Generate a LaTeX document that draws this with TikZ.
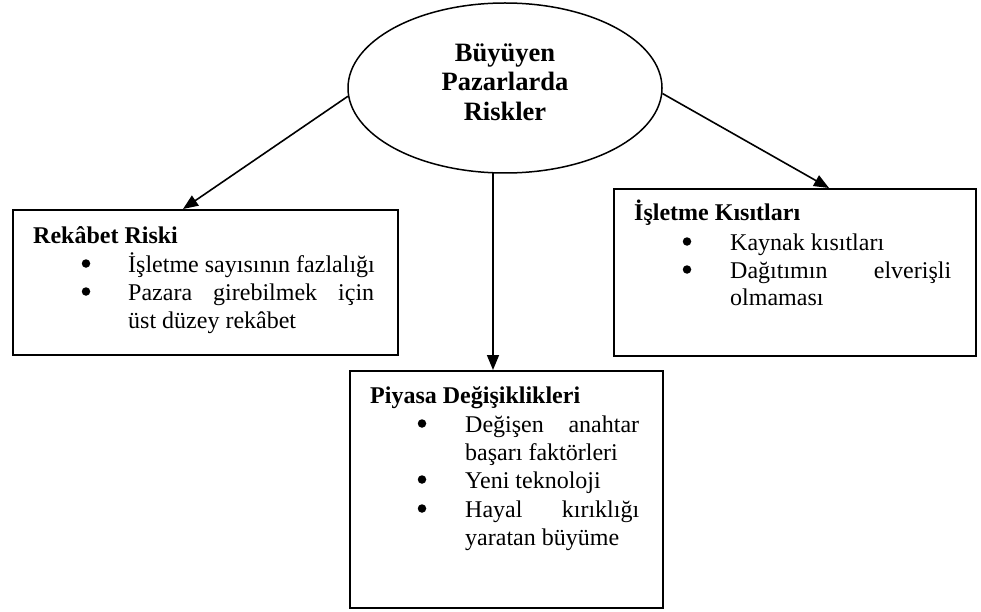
\documentclass[tikz,border=0pt]{standalone}
\usepackage{fontspec}
\setmainfont{Liberation Serif}
\usetikzlibrary{shapes.geometric,arrows.meta,calc}

\tikzset{
  riskbox/.style={draw, line width=2pt, rectangle, anchor=north west, inner sep=0pt},
  centre/.style={draw, ellipse, line width=1.5pt, inner sep=0pt},
  conn/.style={line width=1.6pt, -{Triangle[length=15pt,width=12pt]}},
  headtxt/.style={anchor=base, inner sep=0pt, font=\fontsize{26.5}{30}\selectfont\bfseries},
  titletxt/.style={anchor=base west, inner sep=0pt, font=\fontsize{24}{28}\selectfont\bfseries},
  itemtxt/.style={anchor=base west, inner sep=0pt, font=\fontsize{24}{28}\selectfont},
  dot/.style={circle, fill, inner sep=0pt, minimum size=8.5pt, yshift=8.5pt},
}

\begin{document}
\begin{tikzpicture}[x=1pt,y=-1pt]
\useasboundingbox (0,0) rectangle (981,612);

% central ellipse
\node[centre, minimum width=314pt, minimum height=170pt] (ell) at (505,88) {};
\node[headtxt] (h1) at (505,62) {Büyüyen};
\node[headtxt] (h2) at (505,91) {Pazarlarda};
\node[headtxt] (h3) at (505,121) {Riskler};

% three boxes
\node[riskbox, minimum width=385pt, minimum height=145pt] (rek) at (12,209) {};
\node[riskbox, minimum width=362pt, minimum height=167pt] (isl) at (613,188) {};
\node[riskbox, minimum width=313pt, minimum height=237pt] (piy) at (349,370) {};

% competition risk
\node[titletxt] (rekT) at (33,243) {Rekâbet Riski};
\node[dot] (rekB1) at (86,272) {};
\node[itemtxt] (rekL1) at (128,272) {İşletme sayısının fazlalığı};
\node[dot] (rekB2) at (86,300) {};
\node[itemtxt] (rekL2) at (128,300) {\makebox[246pt][s]{Pazara girebilmek için}};
\node[itemtxt] (rekL3) at (128,328) {üst düzey rekâbet};

% operating constraints
\node[titletxt] (islT) at (634,221) {İşletme Kısıtları};
\node[dot] (islB1) at (687,250) {};
\node[itemtxt] (islL1) at (730,250) {Kaynak kısıtları};
\node[dot] (islB2) at (687,278) {};
\node[itemtxt] (islL2) at (730,278) {\makebox[221pt][s]{Dağıtımın elverişli}};
\node[itemtxt] (islL3) at (730,305) {olmaması};

% market changes
\node[titletxt] (piyT) at (370,403) {Piyasa Değişiklikleri};
\node[dot] (piyB1) at (422,432) {};
\node[itemtxt] (piyL1) at (465,432) {\makebox[174pt][s]{Değişen anahtar}};
\node[itemtxt] (piyL2) at (465,460) {başarı faktörleri};
\node[dot] (piyB2) at (422,488) {};
\node[itemtxt] (piyL3) at (465,488) {Yeni teknoloji};
\node[dot] (piyB3) at (422,517) {};
\node[itemtxt] (piyL4) at (465,517) {\makebox[174pt][s]{Hayal kırıklığı}};
\node[itemtxt] (piyL5) at (465,545) {yaratan büyüme};

% connectors
\draw[conn] (ell.183) -- ($(rek.north)+(-22.5,0)$);
\draw[conn] (ell.358) -- ($(isl.north)+(34,0)$);
\draw[conn] (ell.262) -- (ell.262 |- piy.north);
\end{tikzpicture}
\end{document}
